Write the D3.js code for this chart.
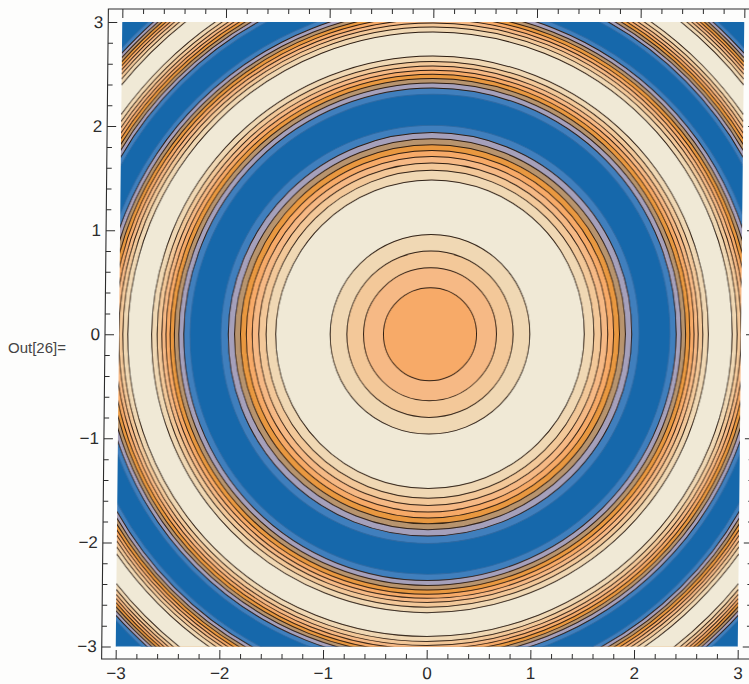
<!DOCTYPE html>
<html>
<head>
<meta charset="utf-8">
<script src="https://cdn.jsdelivr.net/npm/d3@7"></script>
<style>
  html, body { margin: 0; padding: 0; background: #fdfdfc; overflow: hidden; }
  svg { display: block; }
  text { font-family: "Liberation Sans", sans-serif; fill: #2c2c2c; }
</style>
</head>
<body>
<svg id="chart" width="749" height="684"></svg>
<script>
// outer radius of each band, centre outwards (axis units)
const ringRadii = [
    0.449, 0.641, 0.802, 0.963, 1.488, 1.581, 1.652, 1.715, 1.772, 1.828,
    1.885, 1.946, 2.017, 2.314, 2.375, 2.423, 2.466, 2.507, 2.547, 2.587,
    2.632, 2.685, 2.915, 2.963, 3.002, 3.037, 3.070, 3.103, 3.136, 3.173,
    3.217, 3.412, 3.453, 3.486, 3.516, 3.545, 3.573, 3.602, 3.635, 3.673,
    3.845, 3.881, 3.911, 3.938, 3.963, 3.989, 4.015, 4.044, 4.079, 4.25
];
// which shade each band uses
const ringShades = [
    5, 6, 7, 8, 9, 8, 7, 6, 5, 4,
    3, 2, 1, 0, 1, 2, 3, 4, 5, 6,
    7, 8, 9, 8, 7, 6, 5, 4, 3, 2,
    1, 0, 1, 2, 3, 4, 5, 6, 7, 8,
    9, 8, 7, 6, 5, 4, 3, 2, 1, 0
];
const shades = [
    '#1268ab', '#3f7fbd', '#a5a0bb', '#b8946e', '#e9983f',
    '#f7aa68', '#f6b985', '#f3c899', '#f0d8b4', '#f0e9d6'
];
const majorTicks = [-3, -2, -1, 0, 1, 2, 3];
const minorTicks = [
    -2.8, -2.6, -2.4, -2.2, -1.8, -1.6, -1.4, -1.2, -0.8, -0.6, -0.4, -0.2,
    0.2, 0.4, 0.6, 0.8, 1.2, 1.4, 1.6, 1.8, 2.2, 2.4, 2.6, 2.8
];

const midY = 334;
const frame = {left: 105, right: 755, top: 9, bottom: 659};

const x = d3.scaleLinear().domain([-3, 3]).range([119, 741]);
const y = d3.scaleLinear().domain([-3, 3]).range([646.5, 22]);

let svg = d3.select('#chart');

// scanned look, edges are a bit soft
svg.append('filter')
    .attr('id', 'soft')
    .append('feGaussianBlur')
    .attr('stdDeviation', 0.4);

svg.append('text')
    .attr('x', 8)
    .attr('y', 353)
    .attr('font-size', 15)
    .style('fill', '#444')
    .text('Out[26]=');

// the page was scanned slightly skewed
let page = svg.append('g')
    .attr('transform', `translate(0,${midY}) skewX(-0.596) translate(0,${-midY})`);

page.append('clipPath')
    .attr('id', 'plot-clip')
    .append('rect')
    .attr('x', x(-3))
    .attr('y', y(3))
    .attr('width', x(3) - x(-3))
    .attr('height', y(-3) - y(3));

let bands = d3.range(ringRadii.length).reverse();

// contour lines next to the deep blue barely show on the scan
function lineColor(i) {
    let inner = ringShades[i];
    let outer = ringShades[i + 1];
    if (inner === 0 || outer === 0) {
        return '#2f6aa3';
    }
    return '#2a1a10';
}

page.append('g')
    .attr('filter', 'url(#soft)')
    .append('g')
    .attr('clip-path', 'url(#plot-clip)')
    .selectAll('circle')
    .data(bands)
    .join('circle')
    .attr('cx', x(0))
    .attr('cy', y(0))
    .attr('r', i => x(ringRadii[i]) - x(0))
    .attr('fill', i => shades[ringShades[i]])
    .attr('stroke', lineColor)
    .attr('stroke-width', 1);

function drawTicks(axis, translate, values, size, padding) {
    let g = page.append('g')
        .attr('transform', translate)
        .call(axis.tickValues(values)
            .tickSizeInner(size)
            .tickSizeOuter(0)
            .tickPadding(padding)
            .tickFormat(padding ? d => String(d).replace('-', '\u2212') : ''));
    g.select('.domain').remove();
    g.selectAll('.tick line')
        .attr('stroke', '#2c2c2c')
        .attr('stroke-width', 1);
    g.selectAll('.tick text')
        .attr('font-size', 17)
        .attr('font-family', '"Liberation Sans", sans-serif')
        .style('fill', '#2c2c2c');
}

// inward ticks, so negative sizes on the bottom and left
drawTicks(d3.axisBottom(x), `translate(0,${frame.bottom})`, majorTicks, -9, 8);
drawTicks(d3.axisBottom(x), `translate(0,${frame.bottom})`, minorTicks, -5, 0);
drawTicks(d3.axisLeft(y), `translate(${frame.left},0)`, majorTicks, -9, 5);
drawTicks(d3.axisLeft(y), `translate(${frame.left},0)`, minorTicks, -5, 0);
drawTicks(d3.axisTop(x), `translate(0,${frame.top})`, majorTicks, -9, 0);
drawTicks(d3.axisTop(x), `translate(0,${frame.top})`, minorTicks, -5, 0);
drawTicks(d3.axisRight(y), `translate(${frame.right},0)`, majorTicks, -9, 0);
drawTicks(d3.axisRight(y), `translate(${frame.right},0)`, minorTicks, -5, 0);

page.append('rect')
    .attr('x', frame.left)
    .attr('y', frame.top)
    .attr('width', frame.right - frame.left)
    .attr('height', frame.bottom - frame.top)
    .attr('fill', 'none')
    .attr('stroke', '#2c2c2c')
    .attr('stroke-width', 1.1);
</script>
</body>
</html>
